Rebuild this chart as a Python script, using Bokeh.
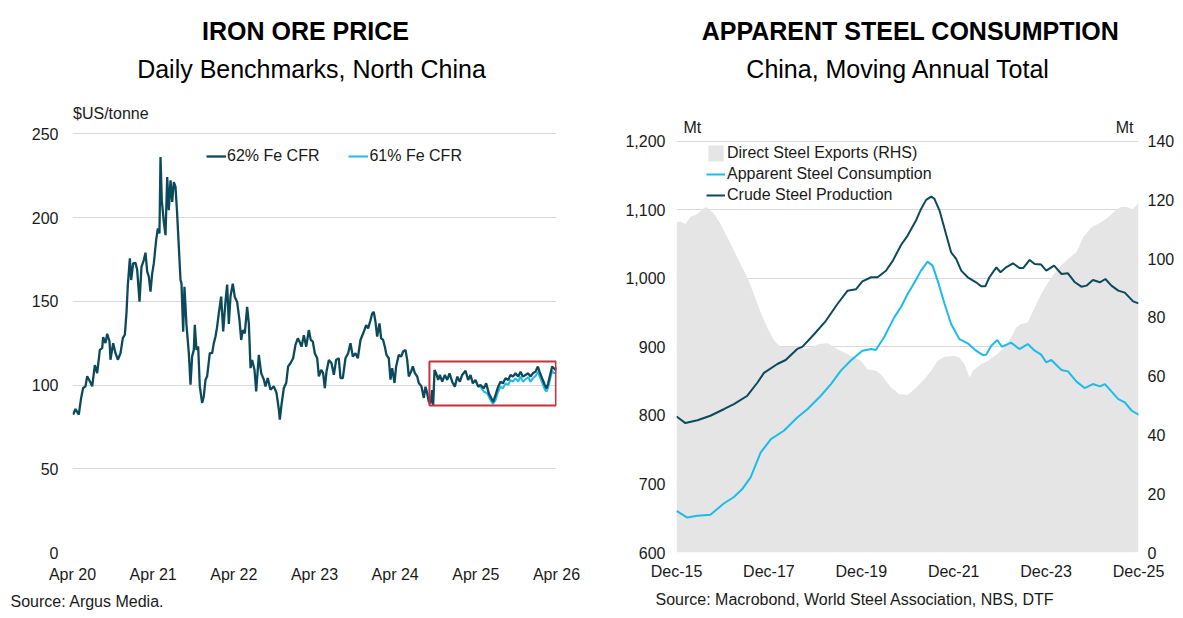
import numpy as np
from bokeh.plotting import figure
from bokeh.models import (Range1d, LinearAxis, FixedTicker, Label, Legend, LegendItem,
                          NumeralTickFormatter, BoxAnnotation, Title)
from bokeh.layouts import row
from bokeh.embed import file_html
from bokeh.resources import INLINE

# ---------------- DATA: Iron ore price (decimal years, US$/tonne) ----------------
fe62_t = [2020.258, 2020.287, 2020.328, 2020.357, 2020.382, 2020.411, 2020.432, 2020.465, 2020.494,
          2020.527, 2020.556, 2020.589, 2020.618, 2020.630, 2020.659, 2020.680, 2020.709, 2020.721,
          2020.754, 2020.783, 2020.812, 2020.845, 2020.874, 2020.899, 2020.919, 2020.936, 2020.961,
          2020.977, 2021.002, 2021.031, 2021.052, 2021.081, 2021.105, 2021.134, 2021.155, 2021.176,
          2021.196, 2021.217, 2021.238, 2021.258, 2021.287, 2021.308, 2021.328, 2021.341, 2021.357,
          2021.382, 2021.403, 2021.424, 2021.444, 2021.465, 2021.486, 2021.506, 2021.527, 2021.547,
          2021.568, 2021.589, 2021.601, 2021.622, 2021.638, 2021.663, 2021.692, 2021.713, 2021.733,
          2021.754, 2021.766, 2021.787, 2021.808, 2021.828, 2021.857, 2021.878, 2021.899, 2021.919,
          2021.952, 2021.981, 2022.002, 2022.023, 2022.043, 2022.064, 2022.093, 2022.118, 2022.147,
          2022.167, 2022.188, 2022.209, 2022.237, 2022.262, 2022.291, 2022.320, 2022.341, 2022.361,
          2022.386, 2022.415, 2022.436, 2022.457, 2022.477, 2022.506, 2022.527, 2022.560, 2022.589,
          2022.622, 2022.642, 2022.671, 2022.704, 2022.746, 2022.779, 2022.808, 2022.820, 2022.841,
          2022.870, 2022.899, 2022.923, 2022.952, 2022.985, 2023.014, 2023.043, 2023.064, 2023.089,
          2023.118, 2023.147, 2023.180, 2023.204, 2023.229, 2023.254, 2023.283, 2023.304, 2023.333,
          2023.357, 2023.378, 2023.399, 2023.428, 2023.461, 2023.490, 2023.518, 2023.551, 2023.572,
          2023.601, 2023.634, 2023.667, 2023.696, 2023.725, 2023.758, 2023.787, 2023.820, 2023.861,
          2023.890, 2023.915, 2023.944, 2023.965, 2023.985, 2024.006, 2024.027, 2024.056, 2024.076,
          2024.101, 2024.122, 2024.142, 2024.171, 2024.192, 2024.213, 2024.242, 2024.262, 2024.295,
          2024.324, 2024.349, 2024.378, 2024.399, 2024.419, 2024.448, 2024.469, 2024.494, 2024.523,
          2024.543, 2024.576, 2024.605, 2024.626, 2024.647, 2024.667, 2024.688, 2024.709, 2024.721,
          2024.738, 2024.758, 2024.783, 2024.804, 2024.833, 2024.866, 2024.895, 2024.924, 2024.957,
          2024.990, 2025.019, 2025.052, 2025.081, 2025.122, 2025.155, 2025.184, 2025.213, 2025.246,
          2025.279, 2025.308, 2025.349, 2025.378, 2025.411, 2025.444, 2025.465, 2025.494, 2025.527,
          2025.556, 2025.585, 2025.618, 2025.651, 2025.680, 2025.709, 2025.742, 2025.775, 2025.804,
          2025.833, 2025.866, 2025.899, 2025.928, 2025.957, 2025.990, 2026.019, 2026.039, 2026.072,
          2026.105, 2026.126, 2026.147, 2026.176, 2026.196, 2026.217, 2026.238, 2026.250]
fe62_v = [82.3, 85.7, 82.3, 92.3, 98.2, 99.2, 105.2, 102.2, 99.2,
          111.9, 107.1, 121.0, 122.0, 128.6, 125.0, 130.6, 126.0, 115.1,
          125.0, 119.0, 115.1, 119.0, 128.0, 130.0, 142.9, 159.7, 175.6,
          162.7, 172.6, 173.0, 168.7, 149.8, 170.6, 174.6, 179.0, 167.7,
          164.7, 155.8, 166.7, 172.6, 186.5, 193.5, 190.5, 236.1, 210.3,
          197.4, 189.5, 224.2, 204.4, 222.2, 209.3, 221.2, 218.3, 202.4,
          182.5, 162.7, 160.7, 131.9, 158.7, 135.9, 119.0, 100.2, 117.1,
          121.0, 135.9, 121.0, 123.0, 99.2, 89.3, 93.3, 103.2, 105.2,
          119.0, 119.0, 125.0, 129.0, 134.9, 142.9, 152.8, 132.0, 150.0,
          160.0, 136.5, 153.0, 160.5, 152.6, 149.6, 138.7, 126.9, 132.8,
          130.8, 146.6, 136.8, 110.1, 115.0, 109.1, 96.2, 118.0, 107.1,
          103.2, 99.2, 104.2, 97.2, 99.2, 95.3, 85.4, 79.4, 88.3,
          98.2, 101.2, 111.1, 113.0, 116.0, 123.9, 127.9, 125.9, 122.9,
          129.8, 122.9, 132.8, 126.9, 125.9, 119.0, 116.0, 105.1, 109.1,
          107.1, 98.2, 108.1, 115.0, 113.0, 106.1, 115.0, 116.0, 104.2,
          104.2, 116.0, 119.0, 124.9, 117.0, 119.0, 116.0, 126.9, 131.8,
          135.8, 133.8, 138.7, 142.7, 143.7, 137.7, 128.9, 136.8, 127.9,
          126.9, 122.9, 118.0, 116.0, 103.2, 110.1, 101.2, 111.1, 118.0,
          117.0, 120.0, 121.0, 115.0, 105.1, 108.1, 111.1, 107.1, 105.1,
          101.2, 99.2, 92.3, 99.0, 95.0, 90.0, 89.0, 97.0, 88.0,
          109.0, 107.0, 103.0, 106.0, 102.0, 106.0, 103.0, 107.0, 102.0,
          99.0, 105.0, 102.0, 106.0, 108.5, 103.0, 106.0, 101.0, 103.0,
          99.0, 100.0, 98.0, 101.0, 95.0, 92.0, 90.0, 94.0, 99.0,
          102.0, 101.0, 104.0, 103.0, 106.0, 105.0, 107.0, 105.0, 108.0,
          105.0, 106.0, 107.0, 105.0, 107.0, 108.0, 111.0, 108.0, 104.0,
          100.0, 98.0, 101.0, 107.0, 111.0, 110.0, 109.0, 110.5]
fe61_t = [2025.308, 2025.349, 2025.390, 2025.432, 2025.461, 2025.494, 2025.527, 2025.556, 2025.585,
          2025.618, 2025.651, 2025.680, 2025.709, 2025.742, 2025.775, 2025.804, 2025.833, 2025.866,
          2025.899, 2025.928, 2025.957, 2025.990, 2026.019, 2026.039, 2026.072, 2026.105, 2026.126,
          2026.147, 2026.176, 2026.196, 2026.217, 2026.238, 2026.250]
fe61_v = [99.0, 96.0, 95.0, 91.0, 88.7, 91.0, 96.0, 99.0, 98.0,
          101.0, 100.0, 103.0, 102.0, 104.0, 102.0, 105.0, 102.0, 103.4,
          104.6, 102.0, 104.0, 105.4, 108.0, 105.4, 101.4, 97.4, 96.0,
          98.6, 104.6, 108.5, 107.0, 107.4, 108.0]
iron_tick_years = [2020.25, 2021.25, 2022.25, 2023.25, 2024.25, 2025.25, 2026.25]
iron_tick_labels = ["Apr 20", "Apr 21", "Apr 22", "Apr 23", "Apr 24", "Apr 25", "Apr 26"]
iron_y_ticks = [0, 50, 100, 150, 200, 250]
highlight_years = [2024.675, 2026.243]   # red highlight box (x extent)
highlight_price = [87.8, 114.1]          # red highlight box (y extent)

# ---------------- DATA: China steel, moving annual total ----------------
crude_t = [2015.917, 2016.11, 2016.37, 2016.65, 2016.94, 2017.16, 2017.45, 2017.67, 2017.81, 2018.10,
           2018.28, 2018.53, 2018.64, 2018.90, 2019.15, 2019.40, 2019.62, 2019.80, 2019.94, 2020.13,
           2020.27, 2020.45, 2020.60, 2020.78, 2020.92, 2021.10, 2021.21, 2021.32, 2021.43, 2021.50,
           2021.61, 2021.75, 2021.86, 2021.97, 2022.08, 2022.22, 2022.40, 2022.51, 2022.60, 2022.69,
           2022.84, 2022.93, 2023.05, 2023.20, 2023.34, 2023.42, 2023.56, 2023.67, 2023.81, 2023.92,
           2024.09, 2024.25, 2024.39, 2024.54, 2024.68, 2024.79, 2024.93, 2025.08, 2025.20, 2025.33,
           2025.48, 2025.62, 2025.80, 2025.917]
crude_v = [798.5, 788.8, 793.0, 799.5, 809.0, 816.5, 828.7, 848.0, 862.0, 875.0,
           880.8, 897.0, 900.0, 918.7, 938.0, 962.5, 982.0, 984.0, 995.6, 1001.5,
           1001.5, 1011.0, 1025.8, 1049.0, 1062.3, 1084.2, 1101.2, 1114.4, 1119.2, 1115.8,
           1098.8, 1064.7, 1038.0, 1028.2, 1011.2, 1001.5, 994.2, 988.3, 988.3, 1001.5,
           1016.0, 1008.8, 1016.0, 1021.9, 1015.0, 1015.0, 1026.8, 1020.9, 1020.0, 1011.2,
           1018.5, 1006.3, 1007.3, 994.2, 987.8, 989.3, 997.6, 994.2, 999.0, 989.3,
           982.0, 979.1, 966.4, 963.5]
consumption_t = [2015.917, 2016.15, 2016.37, 2016.65, 2016.94, 2017.16, 2017.34, 2017.52, 2017.74, 2017.96,
                 2018.24, 2018.53, 2018.75, 2019.04, 2019.26, 2019.47, 2019.69, 2019.94, 2020.13, 2020.23,
                 2020.41, 2020.63, 2020.78, 2020.92, 2021.07, 2021.21, 2021.35, 2021.46, 2021.57, 2021.72,
                 2021.86, 2022.04, 2022.22, 2022.40, 2022.55, 2022.62, 2022.73, 2022.86, 2022.96, 2023.16,
                 2023.34, 2023.52, 2023.67, 2023.81, 2023.92, 2024.03, 2024.25, 2024.39, 2024.57, 2024.75,
                 2024.93, 2025.08, 2025.19, 2025.33, 2025.48, 2025.62, 2025.77, 2025.917]
consumption_v = [660.8, 651.0, 653.5, 655.0, 671.5, 681.0, 692.5, 709.5, 746.0, 765.5,
                 777.6, 797.0, 809.0, 828.7, 845.7, 865.0, 880.0, 894.4, 896.8, 895.4,
                 914.0, 943.0, 958.5, 977.1, 994.2, 1011.2, 1024.3, 1018.5, 996.6, 962.5,
                 933.3, 911.4, 905.1, 894.4, 888.0, 888.6, 901.7, 910.0, 900.2, 906.1,
                 896.8, 904.1, 894.4, 888.6, 877.4, 880.8, 866.2, 864.2, 849.6, 839.9,
                 845.7, 842.3, 845.7, 835.0, 823.8, 819.0, 806.8, 801.0]
exports_t = [2015.917, 2016.00, 2016.11, 2016.22, 2016.37, 2016.51, 2016.58, 2016.73, 2016.87, 2017.09,
             2017.30, 2017.45, 2017.59, 2017.74, 2017.88, 2018.03, 2018.17, 2018.39, 2018.53, 2018.68,
             2018.82, 2019.00, 2019.19, 2019.33, 2019.47, 2019.69, 2019.91, 2020.05, 2020.23, 2020.34,
             2020.56, 2020.74, 2020.92, 2021.07, 2021.28, 2021.43, 2021.57, 2021.72, 2021.93, 2022.04,
             2022.15, 2022.26, 2022.33, 2022.51, 2022.66, 2022.84, 2023.02, 2023.16, 2023.27, 2023.38,
             2023.52, 2023.67, 2023.81, 2023.96, 2024.17, 2024.39, 2024.57, 2024.72, 2024.90, 2025.11,
             2025.26, 2025.48, 2025.58, 2025.69, 2025.78, 2025.87, 2025.917]
exports_v = [112.4, 112.7, 111.8, 114.3, 115.2, 117.3, 117.5, 115.2, 111.8, 105.0,
             98.2, 93.7, 88.0, 81.7, 76.6, 72.1, 70.0, 70.0, 69.8, 69.3,
             69.8, 71.0, 71.2, 69.8, 68.7, 67.0, 65.3, 62.4, 61.9, 60.7,
             56.2, 53.9, 53.7, 55.6, 59.0, 61.9, 65.3, 66.6, 66.9, 66.4,
             64.1, 59.6, 61.9, 64.1, 65.3, 67.3, 69.8, 73.2, 76.6, 77.8,
             78.3, 83.4, 88.0, 92.0, 96.5, 99.9, 102.2, 107.3, 110.7, 112.4,
             114.1, 117.3, 117.7, 117.5, 116.8, 118.1, 118.9]
steel_tick_years = [2015 + 11 / 12 + 2 * k for k in range(6)]
steel_tick_labels = ["Dec-15", "Dec-17", "Dec-19", "Dec-21", "Dec-23", "Dec-25"]
steel_lhs_ticks = [600, 700, 800, 900, 1000, 1100, 1200]
steel_rhs_ticks = [0, 20, 40, 60, 80, 100, 120, 140]

# ---------------- STYLE ----------------
FONT = "Liberation Sans"
DARK = "#0B4A5C"
CYAN = "#1DBBEA"
AREA = "#E5E5E5"
GRID = "#D9D9D9"
TXT = "#1A1A1A"
RED = "#C8313D"
H = 617
FRAME_BOTTOM = 552          # page y of both plot frames' bottom edge
BORDER_BOTTOM = H - FRAME_BOTTOM


def style_axis(ax, standoff):
    ax.axis_line_color = None
    ax.major_tick_line_color = None
    ax.minor_tick_line_color = None
    ax.major_tick_out = 0
    ax.major_tick_in = 0
    ax.major_label_text_font = FONT
    ax.major_label_text_font_size = "16px"
    ax.major_label_text_color = TXT
    ax.major_label_standoff = standoff


def add_text(p, x, y, text, size="16px", bold=False, align="left", color=TXT):
    p.add_layout(Label(x=x, y=y, text=text, text_font=FONT, text_font_size=size,
                       text_font_style="bold" if bold else "normal", text_align=align,
                       text_baseline="middle", text_color=color))


def add_source(p, text, offset, standoff):
    p.add_layout(Title(text=text, align="left", offset=offset, standoff=standoff,
                       text_font=FONT, text_font_size="16px", text_font_style="normal",
                       text_color=TXT), "below")


# ================= LEFT: IRON ORE PRICE =================
# frame spans page x 72..556; y 0..552 with 250 gridline at page y 133.3
X0_IRON = iron_tick_years[0]
SPAN_IRON = iron_tick_years[-1] - iron_tick_years[0]
PX_PER_USD = (FRAME_BOTTOM - 133.3) / iron_y_ticks[-1]
p1 = figure(width=590, height=H, output_backend="svg", toolbar_location=None,
            x_range=Range1d(0, SPAN_IRON), y_range=Range1d(0, FRAME_BOTTOM / PX_PER_USD),
            min_border_left=72, min_border_right=34, min_border_top=0, min_border_bottom=BORDER_BOTTOM,
            outline_line_color=None)
p1.xgrid.grid_line_color = None
p1.ygrid.grid_line_color = GRID
p1.ygrid.grid_line_width = 1

x61 = np.array(fe61_t) - X0_IRON
x62 = np.array(fe62_t) - X0_IRON
r61 = p1.line(x61, fe61_v, line_color=CYAN, line_width=2)
r62 = p1.line(x62, fe62_v, line_color=DARK, line_width=2.3)

p1.add_layout(BoxAnnotation(left=highlight_years[0] - X0_IRON, right=highlight_years[1] - X0_IRON,
                            bottom=highlight_price[0], top=highlight_price[1],
                            fill_alpha=0, line_color=RED, line_alpha=1.0, line_width=2))

xt1 = [t - X0_IRON for t in iron_tick_years]
p1.xaxis.ticker = FixedTicker(ticks=xt1)
p1.xaxis.major_label_overrides = {t: lab for t, lab in zip(xt1, iron_tick_labels)}
p1.yaxis.ticker = FixedTicker(ticks=iron_y_ticks)
style_axis(p1.xaxis[0], 13)
style_axis(p1.yaxis[0], 14)

leg1 = Legend(items=[LegendItem(label="62% Fe CFR", renderers=[r62]),
                     LegendItem(label="61% Fe CFR", renderers=[r61])],
              orientation="horizontal", location=(134, 386),
              label_text_font=FONT, label_text_font_size="16px", label_text_color=TXT,
              glyph_width=20, glyph_height=20, label_height=20, label_standoff=1,
              spacing=29, padding=0, margin=0, border_line_color=None,
              background_fill_alpha=0)
p1.add_layout(leg1)


def lx(sx):
    return (sx - 72) * SPAN_IRON / 484


def ly(sy):
    return (FRAME_BOTTOM - sy) / PX_PER_USD


add_text(p1, lx(305), ly(30), "IRON ORE PRICE", size="25px", bold=True, align="center", color="#000000")
add_text(p1, lx(311), ly(68), "Daily Benchmarks, North China", size="25px", align="center", color="#000000")
add_text(p1, lx(72.5), ly(113), "$US/tonne")
add_source(p1, "Source: Argus Media.", 10 - 72, 10)

# ================= RIGHT: APPARENT STEEL CONSUMPTION =================
# frame spans page x 676..1138; y 0..552 with 1,200 gridline at page y 140.7
X0_STEEL = steel_tick_years[0]
SPAN_STEEL = steel_tick_years[-1] - steel_tick_years[0]
PX_PER_MT = (FRAME_BOTTOM - 140.7) / (steel_lhs_ticks[-1] - steel_lhs_ticks[0])
RHS_PER_LHS = (steel_rhs_ticks[-1] - steel_rhs_ticks[0]) / (steel_lhs_ticks[-1] - steel_lhs_ticks[0])
lhs_top = steel_lhs_ticks[0] + FRAME_BOTTOM / PX_PER_MT
p2 = figure(width=592, height=H, output_backend="svg", toolbar_location=None,
            x_range=Range1d(0, SPAN_STEEL), y_range=Range1d(steel_lhs_ticks[0], lhs_top),
            min_border_left=86, min_border_right=44, min_border_top=0, min_border_bottom=BORDER_BOTTOM,
            outline_line_color=None)
p2.extra_y_ranges = {"rhs": Range1d(0, (lhs_top - steel_lhs_ticks[0]) * RHS_PER_LHS)}
p2.xgrid.grid_line_color = None
p2.ygrid.grid_line_color = GRID
p2.ygrid.grid_line_width = 1

xe = np.array(exports_t) - X0_STEEL
xc = np.array(consumption_t) - X0_STEEL
xp = np.array(crude_t) - X0_STEEL
ra = p2.varea(x=xe, y1=0, y2=exports_v, y_range_name="rhs", fill_color=AREA)
rc = p2.line(xc, consumption_v, line_color=CYAN, line_width=2)
rp = p2.line(xp, crude_v, line_color=DARK, line_width=2)

xt2 = [round(t - X0_STEEL) for t in steel_tick_years]
p2.xaxis.ticker = FixedTicker(ticks=xt2)
p2.xaxis.major_label_overrides = {t: lab for t, lab in zip(xt2, steel_tick_labels)}
p2.yaxis.ticker = FixedTicker(ticks=steel_lhs_ticks)
p2.yaxis.formatter = NumeralTickFormatter(format="0,0")
style_axis(p2.xaxis[0], 10)
style_axis(p2.yaxis[0], 11)

rax = LinearAxis(y_range_name="rhs", ticker=FixedTicker(ticks=steel_rhs_ticks))
style_axis(rax, 9)
p2.add_layout(rax, "right")

leg2 = Legend(items=[LegendItem(label="Direct Steel Exports (RHS)", renderers=[ra]),
                     LegendItem(label="Apparent Steel Consumption", renderers=[rc]),
                     LegendItem(label="Crude Steel Production", renderers=[rp])],
              location=(30, 347),
              label_text_font=FONT, label_text_font_size="16px", label_text_color=TXT,
              glyph_width=19, glyph_height=20, label_height=20, label_standoff=2,
              spacing=1, padding=0, margin=0, border_line_color=None,
              background_fill_alpha=0)
p2.add_layout(leg2)


def rx(sx):
    return (sx - 676) * SPAN_STEEL / 462


def ry(sy):
    return steel_lhs_ticks[0] + (FRAME_BOTTOM - sy) / PX_PER_MT


add_text(p2, rx(910), ry(30), "APPARENT STEEL CONSUMPTION", size="25px", bold=True, align="center", color="#000000")
add_text(p2, rx(898), ry(68), "China, Moving Annual Total", size="25px", align="center", color="#000000")
add_text(p2, rx(683), ry(127), "Mt")
add_text(p2, rx(1133), ry(127), "Mt", align="right")
add_source(p2, "Source: Macrobond, World Steel Association, NBS, DTF", 655 - 676, 13)

layout = row(p1, p2)
open("out.html", "w").write(file_html(layout, INLINE))
